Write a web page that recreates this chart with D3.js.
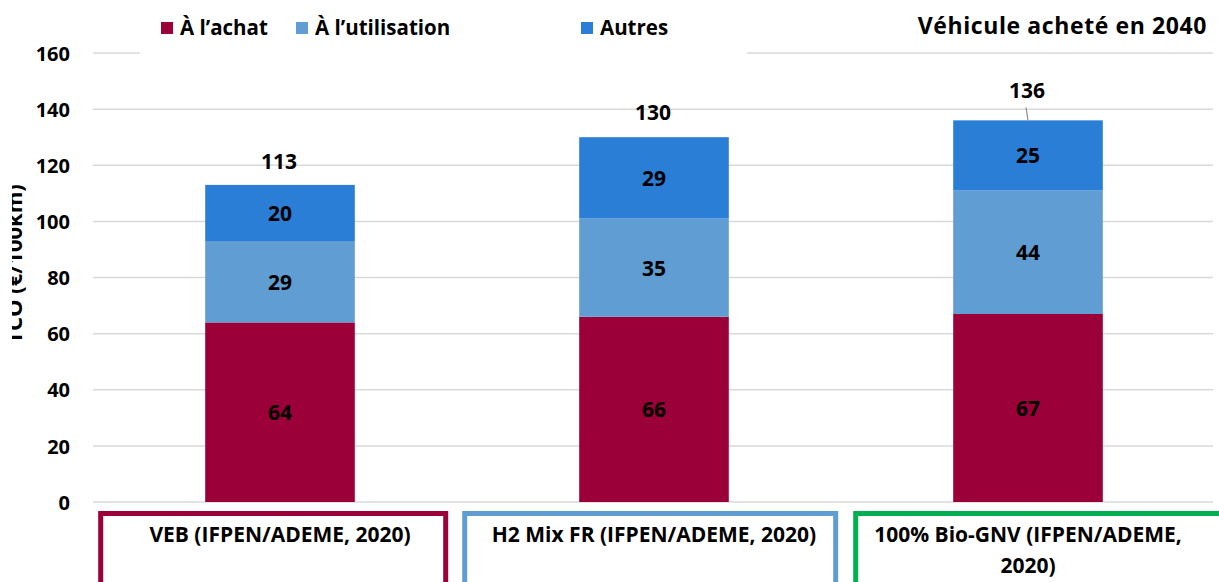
<!DOCTYPE html>
<html>
<head>
<meta charset="utf-8">
<script src="https://cdn.jsdelivr.net/npm/d3@7"></script>
<style>
  html, body { margin: 0; padding: 0; background: #fff; }
  svg { display: block; font-family: 'Open Sans', Lato, sans-serif; font-weight: 700; }
</style>
</head>
<body>
<div id="chart"></div>
<script>
// data
const categories = ['VEB (IFPEN/ADEME, 2020)', 'H2 Mix FR (IFPEN/ADEME, 2020)', '100% Bio-GNV (IFPEN/ADEME, 2020)']
const seriesNames = ['À l’achat', 'À l’utilisation', 'Autres']
const achat = [64, 66, 67]
const utilisation = [29, 35, 44]
const autres = [20, 29, 25]
const yTicks = [0, 20, 40, 60, 80, 100, 120, 140, 160]
const title = 'Véhicule acheté en 2040'
const yLabel = 'TCO (€/100km)'

// layout
const width = 1219
const height = 582
const colors = ['#9B0039', '#5F9DD3', '#2A7ED6']
const boxColors = ['#9B0039', '#5F9DD3', '#00B050']
// box edges relative to the bar's left side
const boxes = [
  { dx: -107, w: 350 },
  { dx: -117, w: 376 },
  { dx: -100, w: 410 },
]
const legendX = [161, 296, 581]

const svg = d3
  .select('#chart')
  .append('svg')
  .attr('width', width)
  .attr('height', height)

const x = d3
  .scaleBand()
  .domain(categories)
  .range([93, 1215])
  .paddingInner(0.6)
  .paddingOuter(0.3)

const y = d3.scaleLinear().domain([0, 160]).range([502, 53])

// gridlines
svg
  .append('g')
  .selectAll('line')
  .data(yTicks)
  .enter()
  .append('line')
  .attr('x1', 93)
  .attr('x2', 1213)
  .attr('y1', d => y(d))
  .attr('y2', d => y(d))
  .attr('stroke', '#D9D9D9')
  .attr('stroke-width', 1.5)

// y axis labels
const yAxis = svg
  .append('g')
  .attr('transform', 'translate(70,0)')
  .call(d3.axisLeft(y).tickValues(yTicks).tickSize(0).tickPadding(0))
yAxis.select('.domain').remove()
yAxis
  .selectAll('text')
  .attr('font-size', 20)
  .attr('font-family', "'Open Sans', sans-serif")
  .attr('font-weight', 700)
  .attr('fill', '#000')
  .attr('dy', '0.36em')

// axis title, cut off at the left edge like the source image
svg
  .append('clipPath')
  .attr('id', 'ylabel-clip')
  .append('rect')
  .attr('x', 12)
  .attr('y', 0)
  .attr('width', 30)
  .attr('height', height)

svg
  .append('g')
  .attr('clip-path', 'url(#ylabel-clip)')
  .append('text')
  .attr('transform', 'translate(22,264) rotate(-90)')
  .attr('text-anchor', 'middle')
  .attr('font-size', 22)
  .text(yLabel)

// stacked bars
const rows = categories.map((c, i) => ({
  cat: c,
  achat: achat[i],
  utilisation: utilisation[i],
  autres: autres[i],
}))
const stack = d3.stack().keys(['achat', 'utilisation', 'autres'])(rows)

const layers = svg
  .append('g')
  .selectAll('g')
  .data(stack)
  .enter()
  .append('g')
  .attr('fill', (_, i) => colors[i])

layers
  .selectAll('rect')
  .data(d => d)
  .enter()
  .append('rect')
  .attr('x', d => x(d.data.cat))
  .attr('width', x.bandwidth())
  .attr('y', d => y(d[1]))
  .attr('height', d => y(d[0]) - y(d[1]))

layers
  .selectAll('text')
  .data(d => d)
  .enter()
  .append('text')
  .attr('x', d => x(d.data.cat) + x.bandwidth() / 2)
  .attr('y', d => (y(d[0]) + y(d[1])) / 2 + 8)
  .attr('text-anchor', 'middle')
  .attr('font-size', 21)
  .attr('fill', '#000')
  .text(d => d[1] - d[0])

// totals
const totals = rows.map(r => r.achat + r.utilisation + r.autres)
const totalOffset = [16, 17, 22]
svg
  .append('g')
  .selectAll('text')
  .data(categories)
  .enter()
  .append('text')
  .attr('x', d => x(d) + x.bandwidth() / 2 - 1)
  .attr('y', (d, i) => y(totals[i]) - totalOffset[i])
  .attr('text-anchor', 'middle')
  .attr('font-size', 21)
  .text((d, i) => totals[i])

// leader line on the last total
const last = categories.length - 1
svg
  .append('line')
  .attr('x1', x(categories[last]) + x.bandwidth() / 2 - 2)
  .attr('x2', x(categories[last]) + x.bandwidth() / 2)
  .attr('y1', y(totals[last]) - 13)
  .attr('y2', y(totals[last]))
  .attr('stroke', '#8c8c8c')
  .attr('stroke-width', 1.2)

// legend (white background hides the top gridline)
svg
  .append('rect')
  .attr('x', 140)
  .attr('y', 8)
  .attr('width', 607)
  .attr('height', 48)
  .attr('fill', '#fff')

const legend = svg
  .append('g')
  .selectAll('g')
  .data(seriesNames)
  .enter()
  .append('g')
  .attr('transform', (_, i) => `translate(${legendX[i]},22)`)

legend
  .append('rect')
  .attr('width', 12)
  .attr('height', 12)
  .attr('fill', (_, i) => colors[i])

legend
  .append('text')
  .attr('x', 19)
  .attr('y', 13)
  .attr('font-size', 20.5)
  .text(d => d)

svg
  .append('text')
  .attr('x', 1207)
  .attr('y', 34)
  .attr('text-anchor', 'end')
  .attr('font-size', 23)
  .attr('letter-spacing', 0.6)
  .text(title)

// category boxes under the axis
const boxG = svg
  .append('g')
  .selectAll('g')
  .data(categories)
  .enter()
  .append('g')

boxG
  .append('rect')
  .attr('x', (d, i) => x(d) + boxes[i].dx + 2.5)
  .attr('y', 513.5)
  .attr('width', (d, i) => boxes[i].w - 5)
  .attr('height', 90)
  .attr('fill', 'none')
  .attr('stroke', (_, i) => boxColors[i])
  .attr('stroke-width', 5)

boxG.each(function(d, i) {
  const g = d3.select(this)
  const cx = x(d) + x.bandwidth() / 2
  const maxW = 340
  const words = d.split(' ')
  const text = g
    .append('text')
    .attr('text-anchor', 'middle')
    .attr('font-size', 21)
  let line = []
  let lineNo = 0
  let tspan = text.append('tspan').attr('x', cx).attr('y', 542)
  words.forEach(w => {
    line.push(w)
    tspan.text(line.join(' '))
    if (tspan.node().getComputedTextLength() > maxW && line.length > 1) {
      line.pop()
      tspan.text(line.join(' '))
      line = [w]
      lineNo++
      tspan = text
        .append('tspan')
        .attr('x', cx)
        .attr('y', 542 + lineNo * 31)
        .text(w)
    }
  })
})
</script>
</body>
</html>
